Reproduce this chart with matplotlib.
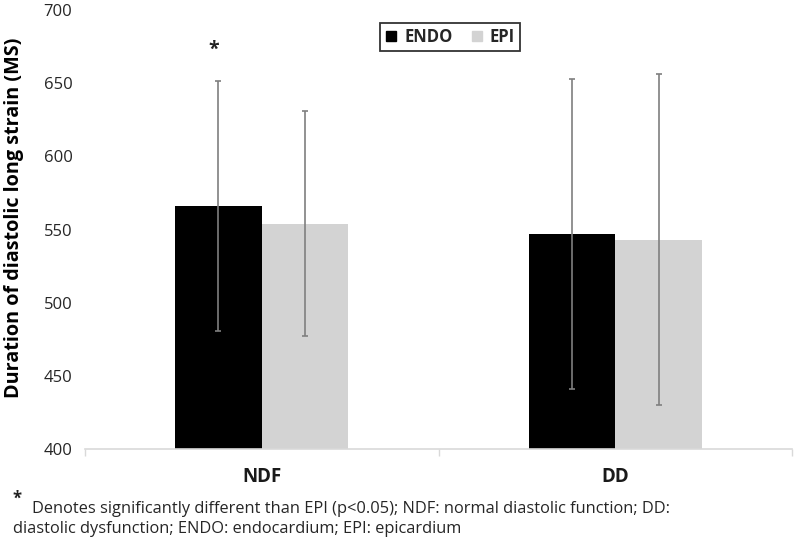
import matplotlib
matplotlib.use("Agg")
import matplotlib.pyplot as plt
import numpy as np
from matplotlib.lines import Line2D

categories = ["NDF", "DD"]
series_names = ["ENDO", "EPI"]
endo_values = [566, 547]
epi_values = [554, 543]
endo_err = [85.5, 106]
epi_err = [77, 113]
y_ticks = [400, 450, 500, 550, 600, 650, 700]
footnote_1 = "Denotes significantly different than EPI (p<0.05); NDF: normal diastolic function; DD:"
footnote_2 = "diastolic dysfunction; ENDO: endocardium; EPI: epicardium"

plt.rcParams['font.family'] = ['Open Sans', 'DejaVu Sans']

fig = plt.figure(figsize=(7.94, 5.39), dpi=100)
ax = fig.add_axes([85/794, 90/539, 707/794, 439/539])

x = np.arange(len(categories))
w = 0.245
err_kw = dict(ecolor="#7f7f7f", elinewidth=1.2, capsize=2.5, capthick=1.2)
ax.bar(x - w/2, endo_values, w, color="black", label="ENDO", yerr=endo_err, error_kw=err_kw)
ax.bar(x + w/2, epi_values, w, color="#d3d3d3", label="EPI", yerr=epi_err, error_kw=err_kw)

ax.text(x[0] - w/2 - 0.012, 673, "*", ha="center", va="center", fontsize=14, fontweight="bold", color="#222222")

ax.set_ylim(400, 700)
ax.set_xlim(-0.5, 1.453)
ax.set_yticks(y_ticks)
ax.set_yticklabels([str(v) for v in y_ticks], fontsize=12, color="#262626")
ax.tick_params(axis="y", length=0, pad=9)
ax.set_xticks(x)
ax.set_xticklabels(categories, fontsize=13.5, fontweight="bold", color="#1a1a1a")
ax.tick_params(axis="x", length=0, pad=13)
ax.set_xticks([-0.5, 0.5, 1.5], minor=True)
ax.tick_params(axis="x", which="minor", length=5, color="#d9d9d9", width=1)

for s in ["top", "right", "left"]:
    ax.spines[s].set_visible(False)
ax.spines["bottom"].set_color("#d9d9d9")
ax.spines["bottom"].set_linewidth(1.2)

ax.set_ylabel("Duration of diastolic long strain (MS)", fontsize=14.2, fontweight="bold", color="black")
ax.yaxis.label.set_va("center")
ax.yaxis.set_label_coords(14/794, 1 - 218/539, transform=fig.transFigure)

handles = [Line2D([], [], marker="s", color="black", linestyle="none", markersize=7),
           Line2D([], [], marker="s", color="#d3d3d3", linestyle="none", markersize=7)]
leg = ax.legend(handles, series_names, loc="center", bbox_to_anchor=(450/794, 1 - 36.5/539),
                bbox_transform=fig.transFigure, ncol=2, frameon=True, fancybox=False,
                handlelength=0.7, handletextpad=0.45, columnspacing=1.1, borderpad=0.3,
                prop={"size": 12, "weight": "bold"})
leg.get_frame().set_edgecolor("black")
leg.get_frame().set_linewidth(1.3)
for t in leg.get_texts():
    t.set_color("#262626")

fig.text(12/794, 1 - 499/539, "*", fontsize=12, fontweight="bold", ha="left", va="center", color="#222222")
fig.text(32/794, 1 - 513/539, footnote_1, fontsize=11.8, ha="left", va="baseline", color="#262626")
fig.text(13/794, 1 - 533/539, footnote_2, fontsize=11.8, ha="left", va="baseline", color="#262626")

fig.savefig("out.png", dpi=100)
